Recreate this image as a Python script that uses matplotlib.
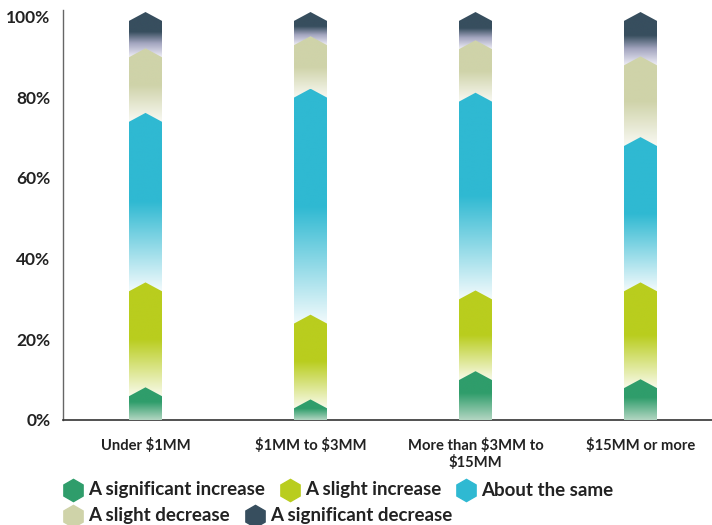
import numpy as np
import matplotlib
matplotlib.use("Agg")
import matplotlib.pyplot as plt
from matplotlib.patches import Polygon
from matplotlib.lines import Line2D
from matplotlib.colors import to_rgb

plt.rcParams['font.family'] = ['Lato', 'DejaVu Sans']

# data (percent of respondents)
categories = ["Under \\$1MM", "\\$1MM to \\$3MM", "More than \\$3MM to\n\\$15MM", "\\$15MM or more"]
series = ["A significant increase", "A slight increase", "About the same",
          "A slight decrease", "A significant decrease"]
sig_increase = [7, 4, 11, 9]
slight_increase = [26, 21, 20, 24]
about_same = [42, 56, 49, 36]
slight_decrease = [16, 13, 13, 20]
sig_decrease = [9, 6, 7, 11]
yticks = [0, 20, 40, 60, 80, 100]

values = [sig_increase, slight_increase, about_same, slight_decrease, sig_decrease]

# style
colors = ["#2f9d6b", "#b9cd1e", "#2fb9d2", "#cfd3a9", "#374e5e"]
# gradient stops (t from bottom 0 to top 1)
stops = [
    [(0.0, "#b3d6c2"), (0.55, "#2f9d6b"), (1.0, "#2f9d6b")],
    [(0.0, "#f8faea"), (0.5, "#b9cd1e"), (1.0, "#b9cd1e")],
    [(0.0, "#f2fafc"), (0.5, "#2fb9d2"), (1.0, "#2fb9d2")],
    [(0.0, "#f9f9f3"), (0.5, "#cfd3a9"), (1.0, "#cfd3a9")],
    [(0.0, "#eeedf6"), (0.3, "#a3a5bf"), (0.55, "#374e5e"), (1.0, "#374e5e")],
]
text_color = "#222222"
bar_w = 0.2
chev = 2.2  # chevron height in %


def gradient(k, n=200):
    t = np.linspace(0, 1, n)
    pos = [s[0] for s in stops[k]]
    cols = np.array([to_rgb(s[1]) for s in stops[k]])
    rgb = np.stack([np.interp(t, pos, cols[:, c]) for c in range(3)], axis=1)
    return rgb.reshape(n, 1, 3)


fig = plt.figure(figsize=(7.12, 5.25), dpi=100)
ax = fig.add_axes([63 / 712, 105 / 525, 649 / 712, 410 / 525])

for i in range(len(categories)):
    x0, x1 = i - bar_w / 2, i + bar_w / 2
    prev = 0.0
    for k in range(len(series)):
        top = prev + values[k][i]
        ybot = 0.0 if k == 0 else prev - chev / 2
        verts = [(x0, ybot), (x1, ybot), (x1, top - chev / 2),
                 (i, top + chev / 2), (x0, top - chev / 2)]
        poly = Polygon(verts, closed=True, facecolor='none', edgecolor='none')
        ax.add_patch(poly)
        img = ax.imshow(gradient(k), extent=[x0, x1, ybot, top + chev / 2],
                        origin='lower', aspect='auto', interpolation='bilinear',
                        zorder=10 - k)
        img.set_clip_path(poly)
        prev = top

ax.set_xlim(-0.5, -0.5 + 649 / 165)
ax.set_ylim(0, 101.6)
ax.set_xticks(range(len(categories)))
ax.set_xticklabels(categories, fontsize=10.6, fontweight='bold', color=text_color,
                   linespacing=1.15)
ax.set_yticks(yticks)
ax.set_yticklabels([f"{v}%" for v in yticks], fontsize=12.5, fontweight='bold',
                   color=text_color)
ax.tick_params(axis='both', length=0)
ax.tick_params(axis='y', pad=9)
ax.tick_params(axis='x', pad=13)
for s in ['top', 'right']:
    ax.spines[s].set_visible(False)
ax.spines['left'].set_color('#666666')
ax.spines['left'].set_linewidth(1.0)
ax.spines['bottom'].set_color('#333333')
ax.spines['bottom'].set_linewidth(1.2)

# legend drawn by hand: two rows of hexagon markers
fig.canvas.draw()
renderer = fig.canvas.get_renderer()
rows = [[0, 1, 2], [3, 4]]
row_y = [1 - 490 / 525, 1 - 516 / 525]
for r, items in enumerate(rows):
    xpx = 73
    for k in items:
        fig.add_artist(Line2D([xpx / 712], [row_y[r]], marker='h', markersize=16,
                              color=colors[k], linestyle='none',
                              transform=fig.transFigure))
        t = fig.text((xpx + 15) / 712, row_y[r], series[k], ha='left', va='center',
                     fontsize=13.5, fontweight='bold', color=text_color)
        w = t.get_window_extent(renderer).width
        xpx += 15 + w + 25

fig.savefig("out.png", dpi=100)
